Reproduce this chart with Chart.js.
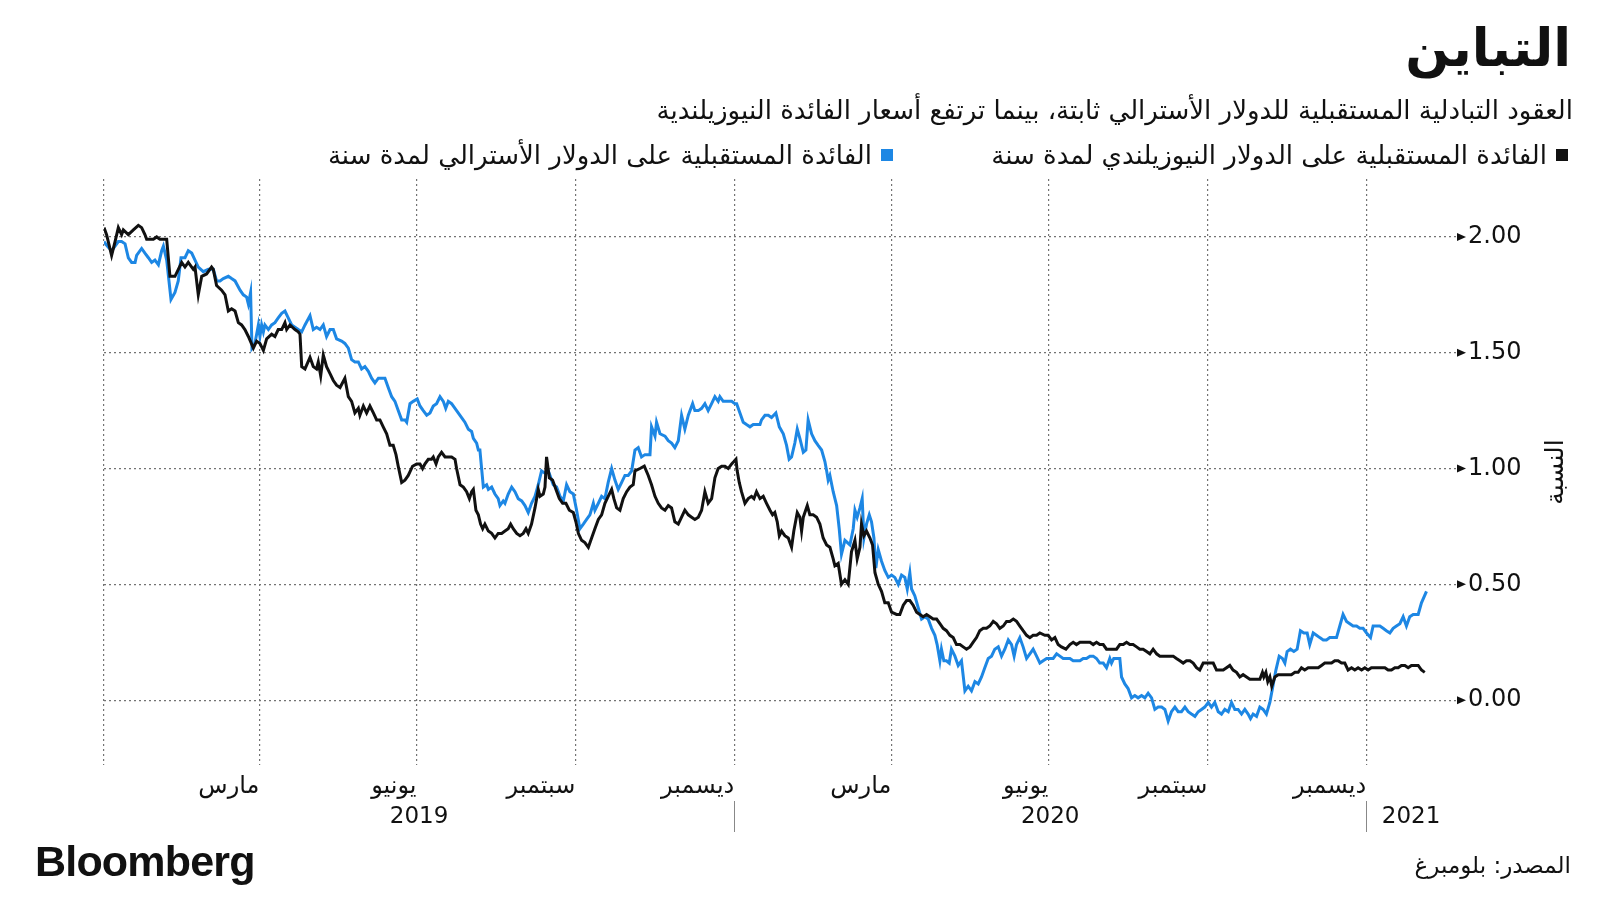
<!DOCTYPE html>
<html lang="ar">
<head>
<meta charset="utf-8">
<script src="https://cdn.jsdelivr.net/npm/chart.js@4.4.1/dist/chart.umd.min.js"></script>
<style>
  html, body { margin:0; padding:0; background:#fff; }
  #wrap { position:relative; width:1600px; height:900px; overflow:hidden; background:#fff; }
  #c { position:absolute; left:0; top:0; }
  .t { position:absolute; white-space:nowrap; color:#111; font-family:"DejaVu Sans", sans-serif; direction:rtl; }
  #title { right:29px; top:13px; font-size:52px; font-weight:bold; line-height:70px; }
  #subtitle { right:27px; top:93px; font-size:26px; line-height:34px; }
  .leg { position:absolute; top:140px; height:30px; display:flex; align-items:center; direction:rtl; font-family:"DejaVu Sans", sans-serif; font-size:26px; color:#111; white-space:nowrap; }
  .sw { width:12px; height:12px; margin-left:9px; flex:none; }
  #source { right:29px; top:850px; font-size:23px; line-height:30px; }
  #logo { position:absolute; left:35px; top:836px; font-family:"Liberation Sans", Arial, sans-serif; font-weight:bold; font-size:43px; letter-spacing:-0.8px; line-height:50px; color:#111; }
</style>
</head>
<body>
<div id="wrap">
  <canvas id="c" width="1600" height="900"></canvas>
  <div id="title" class="t">التباين</div>
  <div id="subtitle" class="t">العقود التبادلية المستقبلية للدولار الأسترالي ثابتة، بينما ترتفع أسعار الفائدة النيوزيلندية</div>
  <div class="leg" id="leg1" style="right:32px;"><span class="sw" style="background:#111;"></span><span>الفائدة المستقبلية على الدولار النيوزيلندي لمدة سنة</span></div>
  <div class="leg" id="leg2" style="right:707px;"><span class="sw" style="background:#1d87e4;"></span><span>الفائدة المستقبلية على الدولار الأسترالي لمدة سنة</span></div>
  <div id="source" class="t">المصدر: بلومبرغ</div>
  <div id="logo">Bloomberg</div>
</div>
<script>
// x values are days counted from 1 January 2019
const nzdLabel = 'الفائدة المستقبلية على الدولار النيوزيلندي لمدة سنة';
const audLabel = 'الفائدة المستقبلية على الدولار الأسترالي لمدة سنة';

const nzdPoints = [
[0,2.04],[1.5,2.01],[4.4,1.92],[6.4,1.98],[8.3,2.04],[10.2,2.01],[11.2,2.03],[14.1,2.01],[17,2.03],[19.9,2.05],[21.8,2.04],[23.7,2.01],[24.7,1.99],[28.6,1.99],[30.5,2.00],[32.4,1.99],[36.3,1.99],[38.2,1.83],[41.1,1.83],[45,1.89],[46.9,1.87],[48.8,1.89],[51.7,1.86],[52.7,1.87],[54.6,1.75],[56.6,1.83],[59.4,1.84],[62.3,1.87],[63.3,1.86],[65.2,1.79],[68.1,1.77],[70.1,1.75],[72,1.68],[73.9,1.69],[75.9,1.68],[77.8,1.63],[79.7,1.62],[81.6,1.60],[83.6,1.57],[86.5,1.52],[88.4,1.55],[90.3,1.54],[92.3,1.51],[94.2,1.56],[97.1,1.58],[99,1.57],[100.9,1.60],[102.9,1.60],[104.8,1.63],[105.8,1.60],[107.7,1.62],[110.6,1.60],[112.5,1.59],[113.5,1.58],[114.5,1.44],[116.4,1.43],[119.3,1.48],[121.2,1.44],[123.1,1.43],[124.1,1.46],[125.5,1.40],[127,1.49],[128.9,1.44],[130.9,1.41],[132.8,1.38],[134.7,1.36],[136.7,1.35],[139.5,1.39],[141.5,1.31],[143.4,1.29],[145.3,1.24],[147.3,1.26],[148.2,1.23],[150.2,1.27],[152.1,1.24],[154,1.27],[156,1.24],[157.9,1.21],[159.8,1.21],[161.7,1.18],[163.7,1.15],[165.6,1.10],[167.5,1.10],[169.1,1.06],[170.4,1.01],[172.4,0.94],[174.3,0.95],[176.2,0.97],
[178.7,1.01],[181.1,1.02],[183,1.02],[184.5,1.00],[185.9,1.02],[187.8,1.04],[189.7,1.04],[190.7,1.05],[192.3,1.02],[193.6,1.05],[195.5,1.07],[197.5,1.05],[199.4,1.05],[201.3,1.05],[203.3,1.04],[204.2,1.00],[206.2,0.93],[208.1,0.92],[210,0.90],[211.6,0.87],[212.9,0.90],[213.9,0.91],[215.4,0.82],[216.8,0.80],[218.1,0.76],[219.3,0.74],[220.6,0.76],[222.6,0.73],[224.5,0.72],[226.4,0.70],[228.3,0.72],[230.3,0.72],[232.2,0.73],[234.1,0.74],[235.5,0.76],[237,0.74],[239,0.72],[240.9,0.71],[242.8,0.72],[244.4,0.74],[245.7,0.72],[247.6,0.76],[249.6,0.83],[251.5,0.91],[252.5,0.88],[254.4,0.89],[255.4,0.92],[256.3,1.05],[257.9,0.96],[259.8,0.95],[261.7,0.91],[263.7,0.87],[265.6,0.85],[267.5,0.85],[269.5,0.82],[271.8,0.81],[273.3,0.77],[274.7,0.72],[276.6,0.69],[278.5,0.68],[280.5,0.66],[282.4,0.70],[284.3,0.74],[286.3,0.78],[288.2,0.80],[290.1,0.85],[292,0.88],[294,0.91],[295.3,0.87],[296.9,0.83],[298.8,0.82],[300.7,0.87],[302.7,0.90],[304.6,0.92],[306.5,0.93],[307.5,0.99],[310.4,1.00],[312.9,1.01],[315.2,0.97],[317.1,0.93],[319.1,0.88],[321,0.85],[322.9,0.83],[324.9,0.82],[326.8,0.84],[328.7,0.83],[330.6,0.77],[332.6,0.76],[334.5,0.79],[336.4,0.82],[338.4,0.80],[340.3,0.79],[342.2,0.78],[344.2,0.79],[346.1,0.82],[348,0.90],[349.9,0.85],[351.9,0.87],[353.8,0.96],[355.7,1.00],[357.7,1.01],[359.6,1.01],[361.5,1.00],[363.5,1.02],
[364.8,1.03],[366,1.04],[366.7,0.99],[367.9,0.94],[369.2,0.90],[371.2,0.85],[373.1,0.87],[375,0.88],[376.4,0.87],[377.9,0.90],[379.9,0.87],[381.8,0.88],[383.7,0.85],[385.7,0.82],[387.2,0.80],[388.5,0.81],[389.9,0.77],[391.1,0.71],[392.4,0.73],[394.3,0.71],[396.3,0.70],[398.2,0.66],[399.5,0.73],[401.5,0.81],[403,0.79],[404,0.73],[405,0.79],[407.3,0.84],[408.8,0.80],[410.7,0.80],[412.7,0.79],[414.6,0.76],[416.5,0.70],[418.5,0.67],[420.4,0.66],[422.3,0.61],[423.3,0.58],[425.2,0.59],[427.1,0.50],[429.1,0.52],[431,0.50],[432.9,0.64],[434.9,0.69],[436.2,0.61],[437.8,0.66],[438.7,0.76],[440.1,0.71],[441.6,0.73],[443.6,0.70],[445.1,0.67],[446.5,0.55],[448.4,0.50],[450.3,0.47],[452.2,0.42],[454.2,0.42],[456.1,0.38],[459,0.37],[460.9,0.37],[462.9,0.41],[464.8,0.43],[466.7,0.43],[468.6,0.41],[470.6,0.38],[472.5,0.37],[474.4,0.36],[476.4,0.37],[478.3,0.36],[480.2,0.35],[482.2,0.35],[484.1,0.33],[486,0.31],[487.9,0.30],[489.9,0.28],[491.8,0.27],[493.7,0.24],[495.7,0.24],[497.6,0.23],[499.5,0.22],[501.5,0.23],[503.4,0.25],[505.3,0.27],[507.2,0.30],[509.2,0.31],[511.1,0.31],[513,0.32],[515,0.34],[516.9,0.33],[518.8,0.31],[520.8,0.32],[522.7,0.34],[524.6,0.34],[526.6,0.35],[528.5,0.34],[530.4,0.32],[532.3,0.30],[534.3,0.28],[536.2,0.27],[538.1,0.28],[540.1,0.28],
[542,0.29],[544.9,0.28],[546.8,0.28],[548.8,0.26],[550.7,0.27],[552.6,0.24],[554.5,0.23],[557.1,0.22],[559.4,0.24],[561.3,0.25],[563.2,0.24],[565.2,0.25],[567.1,0.25],[569,0.25],[571,0.25],[572.9,0.24],[574.8,0.25],[576.7,0.24],[578.7,0.24],[580.6,0.22],[582.5,0.22],[584.5,0.22],[586.4,0.22],[588.3,0.24],[590.3,0.24],[592.2,0.25],[594.1,0.24],[596,0.24],[598,0.23],[599.9,0.22],[601.8,0.22],[603.8,0.21],[605.7,0.20],[607.6,0.22],[609.6,0.20],[611.5,0.19],[613.4,0.19],[615.3,0.19],[617.3,0.19],[619.2,0.19],[621.1,0.18],[623.1,0.17],[625,0.16],[626.9,0.17],[628.9,0.17],[630.8,0.16],[632.7,0.14],[634.6,0.13],[636.6,0.16],[638.5,0.16],[640.4,0.16],[642.4,0.16],[644.3,0.13],[646.2,0.13],[648.2,0.13],[650.1,0.14],[652,0.15],[653.9,0.13],[655.9,0.12],[657.8,0.10],[659.7,0.11],[661.7,0.10],[663.6,0.09],[665.5,0.09],[667.5,0.09],[669.4,0.09],[670.9,0.12],[671.7,0.10],[672.9,0.12],[674,0.08],[675.2,0.10],[676.3,0.06],[678.1,0.10],[680,0.11],[681.9,0.11],[683.9,0.11],[685.8,0.11],[687.7,0.11],[689.7,0.12],[691.6,0.12],[693.5,0.14],[695.4,0.13],[697.4,0.14],[699.3,0.14],[701.2,0.14],[703.2,0.14],[705.1,0.15],[707,0.16],[709,0.16],[710.9,0.16],[712.8,0.17],[714.7,0.17],[716.7,0.16],[718.6,0.16],[720.5,0.13],[722.5,0.14],[724.4,0.13],[726.3,0.14],[728.3,0.13],[730.2,0.14],[732.1,0.13],[734,0.14],[736,0.14],[737.9,0.14],[739.8,0.14],[741.8,0.14],[743.7,0.13],[745.6,0.13],[747.6,0.14],[749.5,0.14],[751.4,0.15],[753.4,0.15],[755.3,0.14],[757.2,0.15],[759.1,0.15],[761.1,0.15],[763,0.13],[764.9,0.12]
];

const audPoints = [
[0,1.98],[1.9,1.96],[4.4,1.94],[6.4,1.96],[8.3,1.98],[10.2,1.98],[12.2,1.97],[14.1,1.91],[16,1.89],[18,1.89],[18.9,1.92],[21.8,1.95],[23.7,1.93],[25.7,1.91],[27.6,1.89],[29.5,1.90],[31.5,1.88],[33.4,1.94],[34.4,1.96],[36.3,1.90],[38.8,1.73],[41.1,1.76],[43,1.81],[44.6,1.91],[46.9,1.91],[48.8,1.94],[50.8,1.93],[52.7,1.90],[54.6,1.87],[57.5,1.85],[60.4,1.86],[63.3,1.86],[65.2,1.81],[67.2,1.81],[69.1,1.82],[72,1.83],[73.9,1.82],[75.9,1.81],[78.8,1.77],[80.7,1.75],[82.6,1.74],[83.6,1.71],[84.9,1.76],[85.7,1.52],[87.4,1.54],[89.4,1.62],[90.3,1.57],[91.3,1.62],[92.3,1.59],[93.2,1.62],[95.2,1.60],[97.1,1.62],[99,1.63],[100.9,1.65],[102.9,1.67],[104.8,1.68],[106.7,1.65],[108.7,1.62],[110.6,1.61],[112.5,1.60],[114.5,1.59],[116.4,1.62],[119.3,1.66],[121.2,1.60],[123.1,1.61],[125.1,1.60],[127,1.62],[128.9,1.57],[130.9,1.60],[132.8,1.60],[134.7,1.56],[137.6,1.55],[139.5,1.54],[141.5,1.52],[143.4,1.47],[145.3,1.46],[147.3,1.46],[149.2,1.43],[151.1,1.44],[153.1,1.42],[155,1.39],[156.9,1.37],[158.9,1.39],[160.8,1.39],[162.7,1.39],[164.6,1.35],[166.6,1.31],[168.5,1.29],[170.4,1.25],[172.4,1.21],[174.3,1.21],[175.3,1.20],
[177.2,1.28],[179.1,1.29],[181.4,1.30],[183,1.27],[184.9,1.25],[186.9,1.23],[188.8,1.24],[190.7,1.27],[192.6,1.28],[194.6,1.31],[196.5,1.29],[197.9,1.26],[199.4,1.29],[201.3,1.28],[204.2,1.25],[207.1,1.22],[209,1.20],[211,1.17],[212.9,1.16],[213.9,1.13],[215.8,1.11],[216.8,1.08],[217.7,1.08],[218.7,1.00],[219.7,0.92],[221.6,0.93],[222.6,0.91],[224.5,0.92],[226.4,0.89],[228.3,0.87],[229.3,0.84],[231.2,0.86],[232.2,0.85],[234.1,0.89],[236.1,0.92],[238,0.90],[239.9,0.87],[241.9,0.86],[243.8,0.84],[245.7,0.81],[247.6,0.85],[249.6,0.88],[251.5,0.93],[253.4,0.99],[255.4,0.98],[257.3,0.99],[258.3,0.97],[260.2,0.93],[262.1,0.92],[264.1,0.88],[266,0.86],[267.9,0.93],[269.8,0.90],[271.8,0.89],[273.7,0.82],[275.6,0.74],[277.6,0.76],[279.5,0.78],[281.4,0.80],[283.4,0.85],[284.3,0.82],[286.3,0.85],[288.2,0.88],[290.1,0.87],[292,0.94],[294,1.00],[295.9,0.95],[297.8,0.91],[299.8,0.94],[301.7,0.97],[303.6,0.97],[305.6,0.99],[307.5,1.08],[309.4,1.09],[311.3,1.05],[313.3,1.06],[316.2,1.06],[317.1,1.18],[319.1,1.14],[320,1.20],[322,1.15],[324.9,1.14],[326.8,1.12],[328.7,1.11],[330.6,1.09],[332.6,1.12],[334.5,1.23],[336.4,1.17],[338.4,1.23],[340.9,1.28],[342.2,1.25],[344.2,1.25],[346.1,1.26],[348,1.28],[349.9,1.25],[351.9,1.28],[353.8,1.31],[355.7,1.29],[356.7,1.31],[358.6,1.29],[361.5,1.29],[363.5,1.29],[365.4,1.28],
[366.4,1.28],[368.3,1.24],[370.2,1.20],[372.1,1.19],[374.1,1.18],[376,1.19],[377.9,1.19],[379.9,1.19],[380.8,1.21],[382.8,1.23],[384.7,1.23],[386.6,1.22],[389.1,1.24],[391.1,1.18],[393.4,1.15],[395.3,1.10],[396.8,1.04],[398.2,1.05],[400.1,1.11],[401.5,1.17],[403,1.13],[405,1.07],[406.5,1.08],[407.8,1.21],[409.8,1.15],[411.7,1.12],[413.6,1.10],[415.6,1.08],[417.5,1.03],[418.5,0.99],[419.4,0.95],[420.4,0.97],[422.3,0.90],[424.3,0.84],[425.8,0.74],[427.1,0.63],[429.1,0.69],[432,0.67],[433.9,0.74],[434.9,0.82],[436.2,0.79],[437.8,0.83],[439.1,0.87],[440.1,0.70],[441.6,0.76],[443.2,0.80],[444.5,0.77],[445.9,0.70],[447,0.57],[448.4,0.65],[450.3,0.60],[452.2,0.56],[454.2,0.53],[456.1,0.54],[458,0.53],[460,0.50],[461.9,0.54],[463.8,0.53],[465.2,0.48],[466.7,0.55],[467.7,0.48],[469.6,0.45],[471.5,0.40],[473.5,0.35],[475.4,0.36],[477.3,0.35],[479.3,0.31],[481.2,0.28],[482.5,0.24],[484.1,0.17],[485,0.22],[486.4,0.17],[487.9,0.17],[489.5,0.16],[490.8,0.22],[492.8,0.19],[494.7,0.15],[496.6,0.17],[498.6,0.04],[500.5,0.06],[502.4,0.04],[504.4,0.08],[506.3,0.07],[508.2,0.10],[510.1,0.14],[512.1,0.18],[514,0.19],[515.9,0.22],[517.9,0.23],[519.8,0.19],[521.7,0.22],[523.7,0.26],[525.6,0.24],[527.1,0.19],[528.5,0.24],[530.4,0.27],[532.3,0.23],[534.3,0.18],[536.2,0.20],[538.1,0.22],[540.1,0.19],
[542,0.16],[543.9,0.17],[545.9,0.18],[547.8,0.18],[549.7,0.18],[551.7,0.20],[553.6,0.19],[555.5,0.18],[557.4,0.18],[559.4,0.18],[561.3,0.17],[563.2,0.17],[565.2,0.17],[567.1,0.18],[569,0.18],[571,0.19],[572.9,0.19],[574.8,0.18],[576.7,0.16],[578.7,0.16],[580.6,0.14],[582.5,0.18],[583.5,0.16],[584.8,0.18],[586.4,0.18],[588.3,0.18],[589.3,0.10],[591.2,0.07],[593.1,0.05],[595.1,0.01],[597,0.02],[598.9,0.01],[600.9,0.02],[602.8,0.01],[604.7,0.03],[606.7,0.01],[608.6,-0.04],[610.5,-0.03],[612.5,-0.03],[614.4,-0.04],[616.3,-0.09],[618.2,-0.05],[620.2,-0.03],[622.1,-0.05],[624,-0.05],[626,-0.03],[627.9,-0.05],[629.8,-0.06],[631.8,-0.07],[633.7,-0.05],[635.6,-0.04],[637.5,-0.03],[639.5,-0.01],[641.4,-0.03],[643.3,-0.01],[645.3,-0.05],[647.2,-0.06],[649.1,-0.04],[651.1,-0.05],[653,-0.01],[654.9,-0.04],[656.8,-0.04],[658.8,-0.06],[660.7,-0.04],[662.6,-0.06],[664,-0.08],[665.5,-0.06],[667.5,-0.07],[669.4,-0.03],[671.3,-0.04],[673.2,-0.06],[675.2,-0.01],[676.7,0.05],[678.7,0.13],[680.6,0.19],[682.5,0.18],[683.9,0.16],[685.2,0.21],[687.1,0.22],[689.1,0.21],[691,0.22],[692.9,0.30],[694.9,0.29],[696.8,0.29],[698.3,0.24],[700.3,0.29],[702.2,0.28],[704.1,0.27],[706.1,0.26],[708,0.26],[709.9,0.27],[711.9,0.27],[713.8,0.27],[715.7,0.32],[717.6,0.37],[719.6,0.34],[721.5,0.33],[723.4,0.32],[725.4,0.32],[727.3,0.31],[729.2,0.31],[731.2,0.29],[733.5,0.27],[735,0.32],[736.9,0.32],[738.9,0.32],[740.8,0.31],[742.7,0.30],[744.7,0.29],[746.6,0.31],[748.5,0.32],[750.5,0.33],[752.4,0.36],[754.3,0.32],[756.2,0.36],[758.2,0.37],[761.1,0.37],[763,0.42],[765.9,0.47]
];

// quarter gridlines (days since 1 Jan 2019) and the month names written before them
const monthTicks = [90, 181, 273, 365, 456, 547, 639, 731];
const monthLabels = ['مارس', 'يونيو', 'سبتمبر', 'ديسمبر', 'مارس', 'يونيو', 'سبتمبر', 'ديسمبر'];
const yearStarts = [0, 365, 731];
const yearLabels = ['2019', '2020', '2021'];
const yTicks = [0, 0.5, 1, 1.5, 2];
const yAxisTitle = 'النسبة';

const FONT = '"DejaVu Sans", sans-serif';

const extras = {
  id: 'extras',
  afterDraw(chart) {
    const { ctx, chartArea, scales: { x, y } } = chart;
    ctx.save();
    // arrow heads between gridlines and tick labels
    ctx.fillStyle = '#111';
    y.ticks.forEach(t => {
      const py = y.getPixelForValue(t.value);
      ctx.beginPath();
      ctx.moveTo(chartArea.right + 1, py - 4);
      ctx.lineTo(chartArea.right + 10, py);
      ctx.lineTo(chartArea.right + 1, py + 4);
      ctx.closePath();
      ctx.fill();
    });
    // year labels and separators
    ctx.font = '23px ' + FONT;
    ctx.textAlign = 'center';
    ctx.textBaseline = 'middle';
    ctx.fillStyle = '#111';
    yearStarts.forEach((s, i) => {
      const e = i + 1 < yearStarts.length ? yearStarts[i + 1] : x.max;
      const cx = (x.getPixelForValue(s) + x.getPixelForValue(e)) / 2;
      ctx.fillText(yearLabels[i], cx, chartArea.bottom + 52);
      if (i > 0) {
        const px = Math.round(x.getPixelForValue(s)) + 0.5;
        ctx.strokeStyle = '#888';
        ctx.lineWidth = 1;
        ctx.beginPath();
        ctx.moveTo(px, chartArea.bottom + 36);
        ctx.lineTo(px, chartArea.bottom + 67);
        ctx.stroke();
      }
    });
    // vertical axis title, reading upwards
    ctx.translate(1556, (chartArea.top + chartArea.bottom) / 2);
    ctx.rotate(-Math.PI / 2);
    ctx.font = '25px ' + FONT;
    ctx.fillText(yAxisTitle, 0, 0);
    ctx.restore();
  }
};

new Chart(document.getElementById('c'), {
  type: 'line',
  data: {
    datasets: [
      { label: nzdLabel, data: nzdPoints.map(p => ({ x: p[0], y: p[1] })), borderColor: '#111', borderWidth: 3, pointRadius: 0, tension: 0, order: 0 },
      { label: audLabel, data: audPoints.map(p => ({ x: p[0], y: p[1] })), borderColor: '#1d87e4', borderWidth: 3, pointRadius: 0, tension: 0, order: 1 }
    ]
  },
  options: {
    responsive: false,
    animation: false,
    devicePixelRatio: 1,
    layout: { padding: { left: 104, right: 64, top: 179, bottom: 85 } },
    plugins: { legend: { display: false }, tooltip: { enabled: false } },
    scales: {
      x: {
        type: 'linear', min: 0, max: 783,
        afterBuildTicks: s => { s.ticks = [0].concat(monthTicks).map(v => ({ value: v })); },
        afterFit: s => { s.height = 50; },
        ticks: {
          autoSkip: false, maxRotation: 0, align: 'end', padding: 7,
          color: '#111', font: { family: FONT, size: 24 },
          callback: v => { const i = monthTicks.indexOf(v); return i < 0 ? '' : monthLabels[i]; }
        },
        grid: { color: '#737373', lineWidth: 1.2, drawTicks: false },
        border: { display: false, dash: [2, 3] }
      },
      y: {
        position: 'right', min: -0.28, max: 2.25,
        afterBuildTicks: s => { s.ticks = yTicks.map(v => ({ value: v })); },
        afterFit: s => { s.width = 80; },
        ticks: {
          padding: 12, color: '#111', font: { family: FONT, size: 24 },
          callback: v => Number(v).toFixed(2)
        },
        grid: { color: '#737373', lineWidth: 1.2, drawTicks: false },
        border: { display: false, dash: [2, 3] }
      }
    }
  },
  plugins: [extras]
});
</script>
</body>
</html>
